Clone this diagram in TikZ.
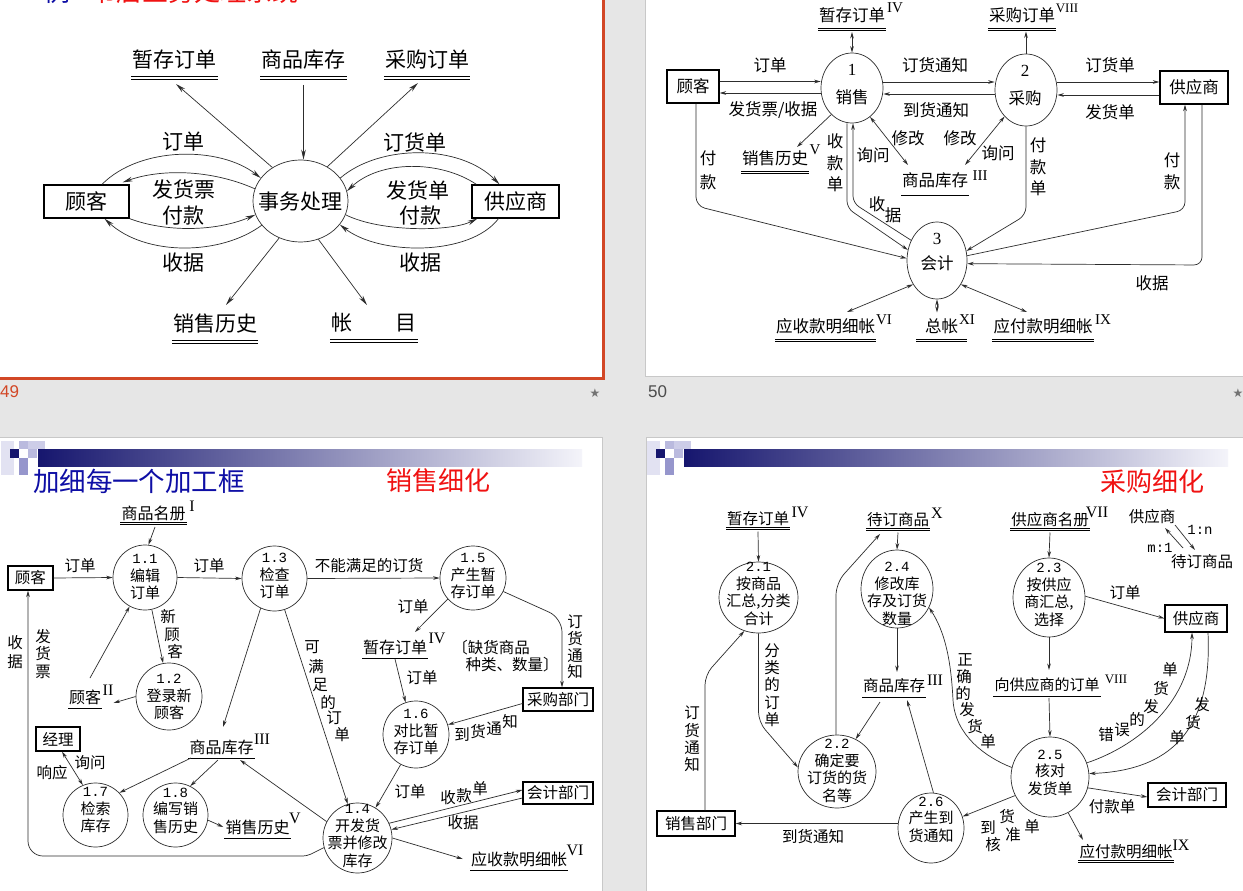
\documentclass[tikz,border=0pt]{standalone}
\usepackage{fontspec}
\setmainfont{Noto Sans CJK SC}
\newfontfamily\dg{Liberation Mono}
\newfontfamily\rn{Liberation Serif}
\newfontfamily\lsans{Liberation Sans}
\newfontfamily\djv{DejaVu Sans}
\usetikzlibrary{arrows.meta,shapes.geometric}
\newcommand\myfs[2]{\fontsize{#1}{#2}\selectfont}
\definecolor{bgc}{RGB}{230,230,230}
\definecolor{sel}{RGB}{210,71,38}
\definecolor{ttl}{RGB}{14,14,165}
\definecolor{tred}{RGB}{240,18,18}
\definecolor{hdN}{RGB}{22,22,110}
\definecolor{hdA}{RGB}{226,226,242}
\definecolor{hdB}{RGB}{205,205,232}
\definecolor{hdC}{RGB}{186,186,222}
\definecolor{hdD}{RGB}{150,150,204}
\definecolor{hdE}{RGB}{244,244,250}
\definecolor{lncol}{RGB}{45,45,45}
\definecolor{brd}{RGB}{200,200,200}
\newcommand\slidehdr[1]{%
\begin{scope}[shift={(#1,0)}]
 \fill[hdA] (1,441) rectangle (14,475);
 \fill[hdB] (28,441) rectangle (45,449);
 \fill[hdC] (19,441) rectangle (28,449);
 \fill[hdN] (10,449) rectangle (19,458);
 \fill[hdD] (19,458) rectangle (28,475);
 \fill[hdC] (28,449) rectangle (37,458);
 \shade[left color=hdN, right color=hdE] (38,449) rectangle (582,466);
\end{scope}}
\tikzset{
  ln/.style={draw=lncol, line width=0.7pt},
  ar/.style={ln, -{Stealth[length=6.5pt,width=3.6pt]}},
  dar/.style={ln, {Stealth[length=6.5pt,width=3.6pt]}-{Stealth[length=6.5pt,width=3.6pt]}},
  arA/.style={ln, -{Stealth[length=10pt,width=4.6pt]}},
  tx/.style={inner sep=0pt, text=black},
  txA/.style={tx, font=\myfs{21}{24}},
  stA/.style={txA, inner xsep=1pt},
  txB/.style={tx, font=\myfs{16.5}{21.5}, align=center},
  stB/.style={txB, inner xsep=1pt},
  txC/.style={tx, font=\myfs{15.5}{17.3}, align=center},
  stC/.style={tx, font=\myfs{16}{18}, inner xsep=1pt},
  ctx/.style={tx, font=\myfs{15}{17.5}, align=center},
  supB/.style={tx, font=\rn\myfs{15}{15}},
  supC/.style={tx, font=\rn\myfs{16}{16}},
  boxA/.style={draw=black, line width=1.3pt, inner sep=0pt, font=\myfs{21}{24}},
  boxB/.style={draw=black, line width=1.3pt, inner sep=0pt, font=\myfs{16.5}{20}},
  boxC/.style={draw=black, line width=1.2pt, inner sep=0pt, font=\myfs{15.5}{18}},
  proc/.style={draw=lncol, line width=0.7pt, ellipse, inner sep=0pt},
  ulA/.style={draw=black, double=white, double distance=2.4pt, line width=1.1pt},
  ul/.style={draw=black, double=white, double distance=1.5pt, line width=0.75pt},
}
\begin{document}
\begin{tikzpicture}[x=1pt,y=-1pt]
\useasboundingbox (0,0) rectangle (1243,891);
% ---------------- backgrounds
\fill[bgc] (0,0) rectangle (1243,891);
\fill[white] (0,0) rectangle (603,377);
\fill[white] (645,0) rectangle (1243,376);
\draw[brd, line width=0.8pt] (645.4,-5) -- (645.4,376.4) -- (1250,376.4);
\fill[white] (0,437) rectangle (602,895);
\draw[brd, line width=0.8pt] (-5,437) -- (602.4,437) -- (602.4,895);
\fill[white] (646,437) rectangle (1250,895);
\draw[brd, line width=0.8pt] (646.4,895) -- (646.4,437) -- (1250,437);
\draw[sel, line width=3.5pt] (-10,-10) rectangle (603.3,378.3);
\node[font=\lsans\myfs{17}{17}, text=sel, anchor=west, inner sep=0pt] (n49) at (0,392) {49};
\node[font=\lsans\myfs{17}{17}, text=black!70, anchor=west, inner sep=0pt] (n50) at (648,392) {50};
\node[font=\djv\myfs{12}{12}, text=black!55, inner sep=0pt] (star1) at (595,393) {★};
\node[font=\djv\myfs{12}{12}, text=black!55, inner sep=0pt] (star2) at (1238,393) {★};
% partial title of slide 49
\begin{scope}
\clip (0,0) rectangle (603,4);
\node[anchor=base west, inner sep=0pt, font=\myfs{26}{26}, text=ttl] (t1a) at (44,1.5) {例};
\node[anchor=base west, inner sep=0pt, font=\myfs{26}{26}, text=tred] (t1b) at (90,1.5) {书店业务处理系统};
\end{scope}
\slidehdr{0}
\slidehdr{646}

% =============== SLIDE 1 ===============
\node[stA] (Az) at (174.5,59.5) {暂存订单};
\draw[ulA] ([yshift=-18.5pt]Az.west) -- ([yshift=-18.5pt]Az.east);
\node[stA] (Ak) at (303.5,59.5) {商品库存};
\draw[ulA] ([yshift=-18.5pt]Ak.west) -- ([yshift=-18.5pt]Ak.east);
\node[stA] (Ac) at (427,59.5) {采购订单};
\draw[ulA] ([yshift=-18.5pt]Ac.west) -- ([yshift=-18.5pt]Ac.east);
\node[stA] (Ax) at (215,323.5) {销售历史};
\draw[ulA] ([yshift=-18.5pt]Ax.west) -- ([yshift=-18.5pt]Ax.east);
\node[stA] (Am) at (374,322.5) {帐\hspace{44pt}目};
\draw[ulA] ([yshift=-18.5pt]Am.west) -- ([yshift=-18.5pt]Am.east);
\node[proc, minimum width=95pt, minimum height=82pt] (Ap) at (300.5,201) {};
\node[txA] (Apt) at (300.5,202) {事务处理};
\node[boxA, minimum width=85pt, minimum height=33pt] (Acu) at (86.5,201.5) {顾客};
\node[boxA, minimum width=87pt, minimum height=33pt] (Asu) at (515.5,201.5) {供应商};

\draw[arA] (Ap.130) -- ([shift={(1.5,24.5)}]Az.center);
\draw[arA] ([shift={(0,25.5)}]Ak.center) -- (Ak.center |- Ap.north);
\draw[arA] (Ap.52) -- ([shift={(-9,23.5)}]Ac.center);
\draw[arA] (Ap.240) -- ([shift={(11,-18.5)}]Ax.center);
\draw[arA] (Ap.295) -- ([shift={(-7,-17.5)}]Am.center);

\draw[arA] ([xshift=15.5pt]Acu.north) .. controls (140,146) and (220,146) .. (Ap.150);
\draw[arA] (Ap.165) .. controls (210,169) and (160,169) .. ([shift={(-7,-2)}]Acu.north east);
\draw[arA] (Acu.south east) .. controls (165,232) and (215,232) .. (Ap.197);
\draw[arA] (Ap.212) .. controls (220,256) and (145,256) .. ([xshift=18pt]Acu.south);
\draw[arA] (Ap.30) .. controls (380,144) and (460,144) .. ([xshift=-16pt]Asu.north);
\draw[arA] ([xshift=5pt]Asu.north west) .. controls (440,160) and (380,160) .. (Ap.12);
\draw[arA] (Ap.343) .. controls (380,232) and (450,232) .. ([xshift=6pt]Asu.south west);
\draw[arA] ([xshift=-17pt]Asu.south) .. controls (470,256) and (380,256) .. (Ap.329);

\node[txA] (AL1) at (183,142) {订单};
\node[txA] (AL2) at (184,189) {发货票};
\node[txA] (AL3) at (183,216) {付款};
\node[txA] (AL4) at (183,263) {收据};
\node[txA] (AL5) at (415,142) {订货单};
\node[txA] (AL6) at (418,190) {发货单};
\node[txA] (AL7) at (420,216) {付款};
\node[txA] (AL8) at (420,263) {收据};

% =============== SLIDE 2 ===============
\node[stB] (Bz) at (852,15.5) {暂存订单};
\draw[ul] ([yshift=-14pt]Bz.west) -- ([yshift=-14pt]Bz.east);
\node[supB] (Bzs) at (895,8) {IV};
\node[stB] (Bc) at (1022,15.5) {采购订单};
\draw[ul] ([yshift=-14pt]Bc.west) -- ([yshift=-14pt]Bc.east);
\node[supB, font=\rn\myfs{13}{13}] (Bcs) at (1067,8) {VIII};
\node[stB] (Bx) at (775,158.5) {销售历史};
\draw[ul] ([yshift=-14pt]Bx.west) -- ([yshift=-14pt]Bx.east);
\node[supB] (Bxs) at (815,150) {V};
\node[stB] (Bk) at (935,180) {商品库存};
\draw[ul] ([yshift=-14pt]Bk.west) -- ([yshift=-14pt]Bk.east);
\node[supB] (Bks) at (980,176) {III};
\node[stB] (By) at (825.5,326.5) {应收款明细帐};
\draw[ul] ([yshift=-14pt]By.west) -- ([yshift=-14pt]By.east);
\node[supB] (Bys) at (884,320) {VI};
\node[stB, inner xsep=9pt] (Bt) at (941.5,326.5) {总帐};
\draw[ul] ([yshift=-14pt]Bt.west) -- ([yshift=-14pt]Bt.east);
\node[supB] (Bts) at (967,320) {XI};
\node[stB] (Bf) at (1043,326.5) {应付款明细帐};
\draw[ul] ([yshift=-14pt]Bf.west) -- ([yshift=-14pt]Bf.east);
\node[supB] (Bfs) at (1103,320) {IX};

\node[proc, minimum width=62pt, minimum height=70pt] (Bp1) at (852,88) {};
\node[tx, font=\rn\myfs{17}{17}] (Bp1a) at (852,70) {1};
\node[txB] (Bp1b) at (852,97) {销售};
\node[proc, minimum width=62pt, minimum height=72pt] (Bp2) at (1026,90) {};
\node[tx, font=\rn\myfs{17}{17}] (Bp2a) at (1025,71) {2};
\node[txB] (Bp2b) at (1025,98) {采购};
\node[proc, minimum width=60pt, minimum height=77pt] (Bp3) at (937,260.5) {};
\node[tx, font=\rn\myfs{17}{17}] (Bp3a) at (937,239) {3};
\node[txB] (Bp3b) at (937,263) {会计};
\node[boxB, minimum width=52pt, minimum height=33pt] (Bcu) at (693,86.5) {顾客};
\node[boxB, minimum width=68pt, minimum height=33pt] (Bsu) at (1194,87.5) {供应商};

\draw[dar] ([shift={(0,16.5)}]Bz.center) -- (Bp1.north);
\draw[ar] (Bp2.north) -- ([shift={(4,16)}]Bc.center);
\draw[ar] ([yshift=5pt]Bcu.east) -- ([yshift=5pt]Bcu.east -| Bp1.west);
\draw[ar] ([yshift=-6.5pt]Bcu.east -| Bp1.west) -- ([yshift=-6.5pt]Bcu.east);
\draw[ar] ([yshift=6pt]Bp1.east) -- ([yshift=6pt]Bp1.east -| Bp2.west);
\draw[ar] ([yshift=-4pt]Bp2.west) -- ([yshift=-4pt]Bp2.west -| Bp1.east);
\draw[ar] ([yshift=8pt]Bp2.east) -- ([yshift=8pt]Bp2.east -| Bsu.west);
\draw[ar] ([yshift=-5pt]Bp2.east -| Bsu.west) -- ([yshift=-5pt]Bp2.east);
\draw[ar] (Bp1.232) -- ([shift={(22,-11.5)}]Bx.center);
\draw[dar] (Bp1.302) -- ([shift={(-27,-15)}]Bk.center);
\draw[dar] (Bp2.231) -- ([shift={(30,-15)}]Bk.center);
\draw[ar, rounded corners=7pt] ([xshift=-5pt]Bp1.south) -- (847,208) -- (Bp3.160);
\draw[ar, rounded corners=7pt] (Bp3.142) -- (853,203) -- ([xshift=1pt]Bp1.south);
\draw[ar, rounded corners=9pt] ([xshift=3pt]Bcu.south) -- (696,206) -- (Bp3.176);
\draw[ar, rounded corners=8pt] (Bp2.south) -- (1026,215) -- (Bp3.18);
\draw[ar, rounded corners=8pt] ([xshift=8pt]Bsu.south) -- (1202,265) -- (Bp3.354);
\draw[ar, rounded corners=8pt] (Bp3.9) -- (1185,210) -- ([xshift=-9pt]Bsu.south);
\draw[dar] (Bp3.225) -- ([shift={(21.5,-14.5)}]By.center);
\draw[dar] (Bp3.south) -- ([shift={(-4.5,-14)}]Bt.center);
\draw[dar] (Bp3.315) -- ([shift={(-16,-14.5)}]Bf.center);

\node[txB] (BL1) at (770,65) {订单};
\node[txB] (BL2) at (773,110) {发货票/收据};
\node[txB] (BL3) at (935,65) {订货通知};
\node[txB] (BL4) at (936,110) {到货通知};
\node[txB] (BL5) at (1110,65) {订货单};
\node[txB] (BL6) at (1110,112) {发货单};
\node[txB] (BL7) at (908,138) {修改};
\node[txB] (BL8) at (960,138) {修改};
\node[txB] (BL9) at (873,155) {询问};
\node[txB] (BL10) at (998,153) {询问};
\node[txB] (BL11) at (835,163) {收\\款\\单};
\node[txB] (BL12) at (877,204) {收};
\node[txB] (BL13) at (893,215) {据};
\node[txB] (BL14) at (1038,167) {付\\款\\单};
\node[txB, font=\myfs{16.5}{24}] (BL15) at (708,170) {付\\款};
\node[txB, font=\myfs{16.5}{22}] (BL16) at (1172,171) {付\\款};
\node[txB] (BL17) at (1152,283) {收据};

% =============== SLIDE 3 ===============
\node[tx, font=\myfs{26.5}{28}, text=ttl] (Ct1) at (139,481) {加细每一个加工框};
\node[tx, font=\myfs{26}{28}, text=tred] (Ct2) at (438.5,481) {销售细化};

\node[stC] (Cn) at (153.5,513.5) {商品名册};
\draw[ul] ([yshift=-10pt]Cn.west) -- ([yshift=-10pt]Cn.east);
\node[supC] (Cns) at (192,506) {I};
\node[stC] (Cz) at (395,647) {暂存订单};
\draw[ul] ([yshift=-10pt]Cz.west) -- ([yshift=-10pt]Cz.east);
\node[supC] (Czs) at (437,638) {IV};
\node[stC] (Cg) at (85,697) {顾客};
\draw[ul] ([yshift=-10pt]Cg.west) -- ([yshift=-10pt]Cg.east);
\node[supC] (Cgs) at (108,690) {II};
\node[stC] (Ck) at (221.5,747) {商品库存};
\draw[ul] ([yshift=-10pt]Ck.west) -- ([yshift=-10pt]Ck.east);
\node[supC] (Cks) at (262,739) {III};
\node[stC] (Cx) at (257.5,827) {销售历史};
\draw[ul] ([yshift=-10pt]Cx.west) -- ([yshift=-10pt]Cx.east);
\node[supC] (Cxs) at (295,818) {V};
\node[stC] (Cy) at (519,859) {应收款明细帐};
\draw[ul] ([yshift=-10pt]Cy.west) -- ([yshift=-10pt]Cy.east);
\node[supC] (Cys) at (575,850) {VI};

\node[boxC, minimum width=45pt, minimum height=24pt] (Ccu) at (30.5,578) {顾客};
\node[boxC, minimum width=70pt, minimum height=23pt] (Cb) at (558,699.5) {采购部门};
\node[boxC, minimum width=70pt, minimum height=22pt] (Cd) at (558,793) {会计部门};
\node[boxC, minimum width=44pt, minimum height=24pt] (Cm) at (58,739) {经理};

\node[proc, minimum width=64pt, minimum height=65pt] (C11) at (145,577.5) {};
\node[ctx] (C11t) at (145,577) {{\dg\myfs{14}{17.5}1.1}\\编辑\\订单};
\node[proc, minimum width=65pt, minimum height=65pt] (C13) at (274.5,578.5) {};
\node[ctx] (C13t) at (274.5,576) {{\dg\myfs{14}{17.5}1.3}\\检查\\订单};
\node[proc, minimum width=66pt, minimum height=64pt] (C15) at (473,578) {};
\node[ctx] (C15t) at (473,576) {{\dg\myfs{14}{17.5}1.5}\\产生暂\\存订单};
\node[proc, minimum width=66pt, minimum height=67pt] (C12) at (169,696.5) {};
\node[ctx] (C12t) at (169,697) {{\dg\myfs{14}{17.5}1.2}\\登录新\\顾客};
\node[proc, minimum width=66pt, minimum height=67pt] (C16) at (416,734.5) {};
\node[ctx] (C16t) at (416,732) {{\dg\myfs{14}{17.5}1.6}\\对比暂\\存订单};
\node[proc, minimum width=65pt, minimum height=64pt] (C17) at (95.5,815) {};
\node[ctx] (C17t) at (95.5,810.5) {{\dg\myfs{14}{17.5}1.7}\\检索\\库存};
\node[proc, minimum width=65pt, minimum height=64pt] (C18) at (175.5,815) {};
\node[ctx] (C18t) at (175.5,810.5) {{\dg\myfs{14}{17.5}1.8}\\编写销\\售历史};
\node[proc, minimum width=69pt, minimum height=70pt] (C14) at (357.5,838) {};
\node[ctx] (C14t) at (357.5,836) {{\dg\myfs{14}{17.5}1.4}\\开发货\\票并修改\\库存};

\draw[ar] ([shift={(1.5,13.5)}]Cn.center) -- (C11.84);
\draw[ar] (Ccu.east) -- (C11.west);
\draw[ar] (C11.east) -- (C13.west);
\draw[ar] (C13.east) -- (C15.west);
\draw[ar] (C11.282) -- (C12.100);
\draw[ar] ([shift={(5,-19)}]Cg.center) -- (C11.242);
\draw[ar] (C12.180) -- ([shift={(28.5,6)}]Cg.center);
\draw[ar] (C15.220) -- ([shift={(20,-15)}]Cz.center);
\draw[ar] ([shift={(0,12)}]Cz.center) -- (C16.108);
\draw[ar, rounded corners=14pt] (C15.336) -- (562,618) -- ([xshift=4pt]Cb.north);
\draw[ar] ([yshift=-4pt]Cb.west) -- (C16.17);
\draw[ar] (C16.243) -- (C14.59);
\draw[ar] (C13.288) -- (C14.106);
\draw[ar] (C13.245) -- ([shift={(1.5,-20)}]Ck.center);
\draw[ar] (C14.152) -- ([shift={(18.5,13)}]Ck.center);
\draw[ar] ([shift={(-30.5,11)}]Ck.center) -- (C17.43);
\draw[ar] ([shift={(-3.5,13)}]Ck.center) -- (C18.63);
\draw[ar] (C18.351) -- ([xshift=-1pt]Cx.west);
\draw[dar] ([xshift=4pt]Cm.south) -- (C17.113);
\draw[ar, rounded corners=4pt] (C14.196) -- (307,856) [rounded corners=15pt] -- (28,856) -- ([xshift=-2.5pt]Ccu.south);
\draw[ar] (C14.25) -- ([yshift=3pt]Cd.west);
\draw[ar] ([yshift=-5pt]Cd.west) -- (C14.14);
\draw[ar] (C14.0) -- ([xshift=-7pt]Cy.west);

\node[txC] (CL1) at (80,566) {订单};
\node[txC] (CL2) at (209,566) {订单};
\node[txC] (CL3) at (369,566) {不能满足的订货};
\node[txC] (CL4) at (168,617) {新};
\node[txC] (CL5) at (172,635) {顾};
\node[txC] (CL6) at (175,652) {客};
\node[txC] (CL7) at (413,607) {订单};
\node[txC] (CL8) at (422,678) {订单};
\node[txC, font=\myfs{15.5}{16.7}] (CL9) at (575,647) {订\\货\\通\\知};
\node[txC] (CL10) at (491,648) {〔缺货商品};
\node[txC] (CL11) at (512,665) {种类、数量〕};
\node[txC] (CL12) at (462,735) {到};
\node[txC] (CL13) at (478,732) {货};
\node[txC] (CL14) at (494,729) {通};
\node[txC] (CL15) at (510,722) {知};
\node[txC] (CL16) at (410,792) {订单};
\node[txC] (CL17) at (448,798) {收};
\node[txC] (CL18) at (464,796) {款};
\node[txC] (CL19) at (480,789) {单};
\node[txC] (CL20) at (463,823) {收据};
\node[txC] (CL21) at (312,647) {可};
\node[txC] (CL22) at (316,667) {满};
\node[txC] (CL23) at (320,685) {足};
\node[txC] (CL24) at (328,702) {的};
\node[txC] (CL25) at (334,718) {订};
\node[txC] (CL26) at (342,735) {单};
\node[txC] (CL27) at (90,763) {询问};
\node[txC] (CL28) at (52,773) {响应};
\node[txC, font=\myfs{15.5}{19}] (CL29) at (15,652) {收\\据};
\node[txC, font=\myfs{15.5}{17.5}] (CL30) at (43,654) {发\\货\\票};

% =============== SLIDE 4 ===============
\node[tx, font=\myfs{26}{28}, text=tred] (Dt0) at (1152,482) {采购细化};

\node[stC, font=\myfs{15.5}{18}] (Dz) at (758,518.5) {暂存订单};
\draw[ul] ([yshift=-10pt]Dz.west) -- ([yshift=-10pt]Dz.east);
\node[supC] (Dzs) at (800,512) {IV};
\node[stC, font=\myfs{15.5}{18}] (Dt) at (898,519.5) {待订商品};
\draw[ul] ([yshift=-10pt]Dt.west) -- ([yshift=-10pt]Dt.east);
\node[supC] (Dts) at (937,513) {X};
\node[stC, font=\myfs{15.5}{18}] (Dg) at (1050,519.5) {供应商名册};
\draw[ul] ([yshift=-10pt]Dg.west) -- ([yshift=-10pt]Dg.east);
\node[supC] (Dgs) at (1097,512) {VII};
\node[stC, font=\myfs{15.5}{18}] (Dk) at (894,686) {商品库存};
\draw[ul] ([yshift=-10pt]Dk.west) -- ([yshift=-10pt]Dk.east);
\node[supC] (Dks) at (935,680) {III};
\node[stC, font=\myfs{15}{18}] (Dv) at (1047,685) {向供应商的订单};
\draw[ul] ([yshift=-10pt]Dv.west) -- ([yshift=-10pt]Dv.east);
\node[supC, font=\rn\myfs{13}{13}] (Dvs) at (1116,679) {VIII};
\node[stC, font=\myfs{15.5}{18}] (Dy) at (1126,851.5) {应付款明细帐};
\draw[ul] ([yshift=-10pt]Dy.west) -- ([yshift=-10pt]Dy.east);
\node[supC] (Dys) at (1181,845) {IX};

\node[boxC, minimum width=78pt, minimum height=25pt] (Ds) at (696,823.5) {销售部门};
\node[boxC, minimum width=62pt, minimum height=27pt] (Dsu) at (1196,618.5) {供应商};
\node[boxC, minimum width=78pt, minimum height=24pt] (Da) at (1187,795) {会计部门};

\node[proc, minimum width=79pt, minimum height=71pt] (D21) at (758.5,597.5) {};
\node[ctx] (D21t) at (758.5,594) {{\dg\myfs{14}{17.3}2.1}\\按商品\\汇总,分类\\合计};
\node[proc, minimum width=78pt, minimum height=73pt] (D22) at (837,771.5) {};
\node[ctx] (D22t) at (837,771) {{\dg\myfs{14}{17.3}2.2}\\确定要\\订货的货\\名等};
\node[proc, minimum width=72pt, minimum height=78pt] (D24) at (897,589) {};
\node[ctx] (D24t) at (897,594) {{\dg\myfs{14}{17.3}2.4}\\修改库\\存及订货\\数量};
\node[proc, minimum width=66pt, minimum height=70pt] (D26) at (931,828) {};
\node[ctx] (D26t) at (931,819.5) {{\dg\myfs{14}{17.3}2.6}\\产生到\\货通知};
\node[proc, minimum width=72pt, minimum height=79pt] (D23) at (1049,597.5) {};
\node[ctx] (D23t) at (1049,595) {{\dg\myfs{14}{17.3}2.3}\\按供应\\商汇总,\\选择};
\node[proc, minimum width=78pt, minimum height=80pt] (D25) at (1050,777) {};
\node[ctx] (D25t) at (1050,772.5) {{\dg\myfs{14}{17.3}2.5}\\核对\\发货单};

\node[txC] (Dl1) at (1152,517) {供应商};
\node[txC] (Dl2) at (1202,562) {待订商品};
\node[tx, font=\dg\myfs{14}{14}] (Dl3) at (1200,530) {1:n};
\node[tx, font=\dg\myfs{14}{14}] (Dl4) at (1160,548) {m:1};
\draw[ar] ([shift={(23,8)}]Dl1.center) -- ([shift={(-7,-12)}]Dl2.center);
\draw[ar] ([shift={(-19,-14)}]Dl2.center) -- ([shift={(13,11)}]Dl1.center);

\draw[ar] ([shift={(0,13)}]Dz.center) -- (D21.north);
\draw[ar, rounded corners=10pt] (D21.south) -- (758.5,722) -- (D22.174);
\draw[ar, rounded corners=10pt] ([xshift=9pt]Ds.north) -- (705,675) -- (D21.247);
\draw[ar] (D26.west |- Ds.east) -- (Ds.east);
\draw[ar, rounded corners=12pt] ([xshift=-1pt]D22.north) -- (836,583) -- ([shift={(-18,14.5)}]Dt.center);
\draw[ar] ([shift={(0,13)}]Dt.center) -- (D24.north);
\draw[ar] (D24.south) -- ([shift={(3,-14)}]Dk.center);
\draw[ar] ([shift={(-14,16)}]Dk.center) -- (D22.60);
\draw[ar] (D26.86) -- ([shift={(13,14)}]Dk.center);
\draw[ar] (D25.166) .. controls (985,757) and (955,735) .. (953,700) .. controls (951,660) and (945,632) .. (D24.330);
\draw[ar] (D25.208) -- (D26.20);
\draw[ar] ([shift={(0,13)}]Dg.center) -- (D23.north);
\draw[ar] (D23.2) -- (Dsu.west);
\draw[ar] (D23.south) -- ([shift={(2,-15)}]Dv.center);
\draw[ar] ([shift={(2,13)}]Dv.center) -- (D25.north);
\draw[ar] (D25.21) .. controls (1140,745) and (1192,700) .. ([xshift=-4pt]Dsu.south);
\draw[ar] ([xshift=12pt]Dsu.south) .. controls (1212,720) and (1180,770) .. (D25.5);
\draw[ar] (D25.344) -- ([yshift=-2pt]Da.west);
\draw[ar] (D25.297) -- ([shift={(-43,-11.5)}]Dy.center);

\node[txC, font=\myfs{15.5}{17.3}] (DL1) at (772,685) {分\\类\\的\\订\\单};
\node[txC, font=\myfs{15.5}{17.3}] (DL2) at (692,739) {订\\货\\通\\知};
\node[txC] (DL3) at (813,837) {到货通知};
\node[txC] (DL4) at (965,660) {正};
\node[txC] (DL5) at (964,677) {确};
\node[txC] (DL6) at (963,693) {的};
\node[txC] (DL7) at (967,710) {发};
\node[txC] (DL8) at (975,727) {货};
\node[txC] (DL9) at (988,742) {单};
\node[txC] (DL10) at (1007,817) {货};
\node[txC] (DL11) at (988,828) {到};
\node[txC] (DL12) at (1032,827) {单};
\node[txC] (DL13) at (1013,835) {准};
\node[txC] (DL14) at (993,845) {核};
\node[txC] (DL15) at (1125,593) {订单};
\node[txC] (DL16) at (1106,735) {错};
\node[txC] (DL17) at (1122,730) {误};
\node[txC] (DL18) at (1137,719) {的};
\node[txC] (DL19) at (1151,707) {发};
\node[txC] (DL20) at (1161,689) {货};
\node[txC] (DL21) at (1170,670) {单};
\node[txC] (DL22) at (1202,705) {发};
\node[txC] (DL23) at (1193,723) {货};
\node[txC] (DL24) at (1177,738) {单};
\node[txC] (DL25) at (1112,807) {付款单};
\end{tikzpicture}
\end{document}
